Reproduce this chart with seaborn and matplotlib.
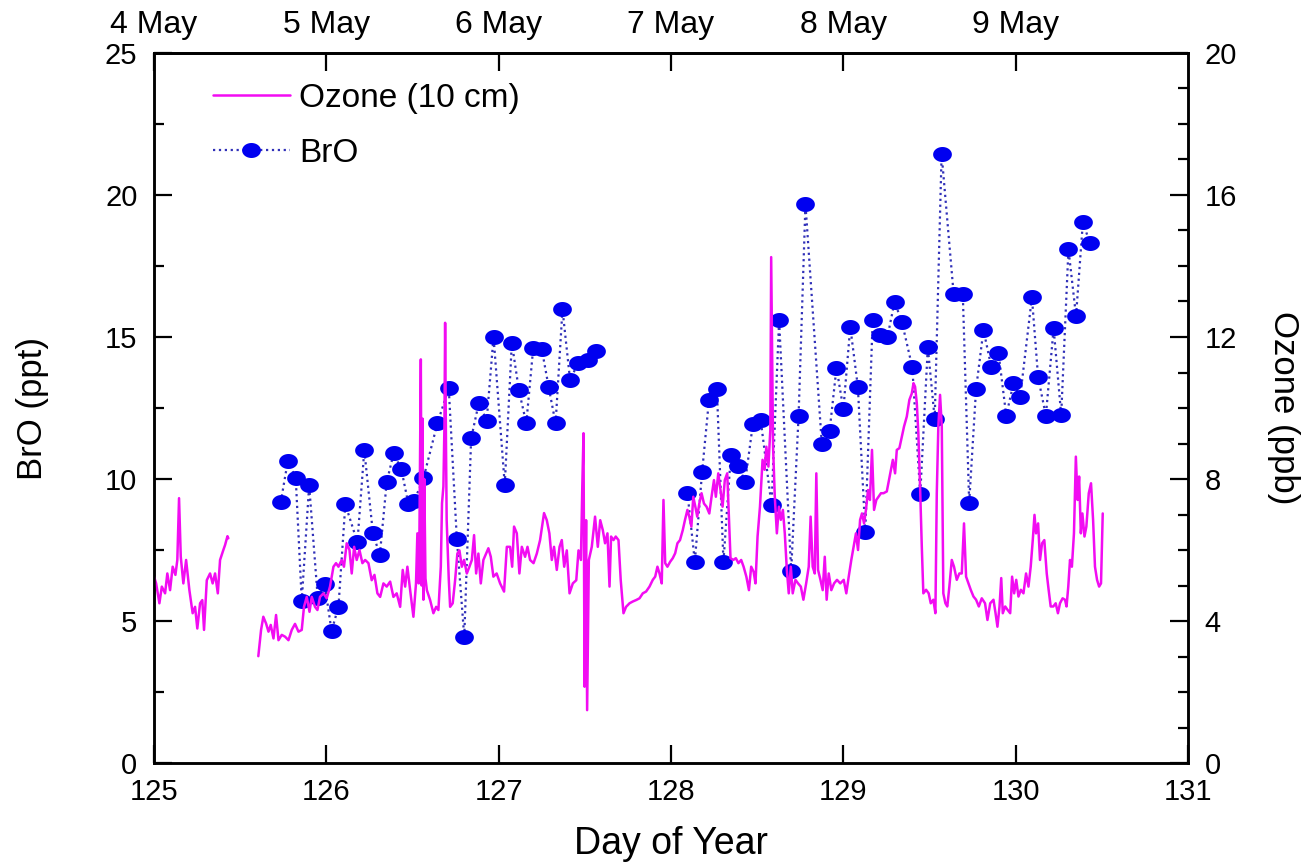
import numpy as np
import pandas as pd
import matplotlib
matplotlib.use("Agg")
import matplotlib.pyplot as plt
from matplotlib.path import Path
from matplotlib.lines import Line2D
from matplotlib.ticker import MultipleLocator
from matplotlib import font_manager
import seaborn as sns

# ---------------- data ----------------
# BrO (ppt), two measurement periods
bro_day_a = [125.735, 125.776, 125.822, 125.857, 125.900, 125.950, 125.990, 126.030, 126.070,
             126.110, 126.180, 126.220, 126.270, 126.310, 126.350, 126.390, 126.435, 126.476,
             126.510, 126.563, 126.644, 126.710, 126.757, 126.800, 126.840, 126.885, 126.930,
             126.970, 127.035, 127.076, 127.117, 127.160, 127.200, 127.250, 127.290, 127.330,
             127.370, 127.414, 127.460, 127.520, 127.565]
bro_val_a = [9.18, 10.63, 10.05, 5.72, 9.78, 5.80, 6.30, 4.65, 5.50,
             9.11, 7.77, 11.02, 8.09, 7.32, 9.89, 10.90, 10.34, 9.12,
             9.24, 10.02, 11.96, 13.20, 7.89, 4.44, 11.43, 12.69, 12.05,
             15.01, 9.79, 14.80, 13.13, 11.96, 14.60, 14.57, 13.23, 11.96,
             15.98, 13.49, 14.07, 14.19, 14.52]
bro_day_b = [128.095, 128.138, 128.180, 128.220, 128.266, 128.304, 128.347, 128.390, 128.430,
             128.475, 128.520, 128.583, 128.627, 128.697, 128.740, 128.780, 128.875, 128.920,
             128.960, 129.000, 129.040, 129.084, 129.127, 129.170, 129.210, 129.256, 129.297,
             129.340, 129.400, 129.446, 129.490, 129.530, 129.570, 129.640, 129.693, 129.730,
             129.770, 129.813, 129.858, 129.900, 129.945, 129.987, 130.026, 130.094, 130.130,
             130.175, 130.220, 130.264, 130.306, 130.350, 130.390, 130.430]
bro_val_b = [9.52, 7.09, 10.24, 12.78, 13.16, 7.09, 10.85, 10.47, 9.91,
             11.94, 12.08, 9.08, 15.60, 6.76, 12.22, 19.68, 11.22, 11.69,
             13.92, 12.45, 15.36, 13.25, 8.14, 15.60, 15.07, 15.01, 16.24,
             15.52, 13.93, 9.46, 14.64, 12.11, 21.45, 16.50, 16.50, 9.17,
             13.17, 15.25, 13.95, 14.45, 12.23, 13.37, 12.90, 16.40, 13.58,
             12.23, 15.31, 12.25, 18.09, 15.74, 19.06, 18.30]

# Ozone (ppb) at 10 cm, two record segments
oz_day_a = [125.000, 125.012, 125.031, 125.045, 125.064, 125.077, 125.093, 125.108, 125.124,
            125.135, 125.145, 125.155, 125.170, 125.186, 125.205, 125.224, 125.238, 125.251,
            125.267, 125.280, 125.290, 125.306, 125.325, 125.340, 125.354, 125.370, 125.383,
            125.402, 125.412, 125.426, 125.431]
oz_val_a = [5.25, 5.06, 4.50, 4.97, 4.78, 5.34, 4.87, 5.53, 5.30,
            5.72, 7.46, 5.81, 5.06, 5.72, 4.87, 4.22, 4.40, 3.79,
            4.50, 4.59, 3.75, 5.15, 5.34, 5.06, 5.34, 4.78, 5.72,
            6.00, 6.14, 6.39, 6.33]
oz_day_b = [125.605, 125.621, 125.634, 125.650, 125.664, 125.677, 125.693, 125.708, 125.722,
            125.741, 125.760, 125.780, 125.799, 125.818, 125.838, 125.857, 125.870, 125.886,
            125.902, 125.915, 125.934, 125.948, 125.963, 125.983, 126.002, 126.021, 126.041,
            126.056, 126.070, 126.089, 126.102, 126.118, 126.134, 126.147, 126.161, 126.176,
            126.192, 126.209, 126.225, 126.244, 126.263, 126.279, 126.296, 126.312, 126.331,
            126.350, 126.370, 126.389, 126.408, 126.428, 126.443, 126.457, 126.470, 126.486,
            126.505, 126.520, 126.528, 126.536, 126.540, 126.548, 126.553, 126.558, 126.563,
            126.568, 126.575, 126.583, 126.602, 126.621, 126.637, 126.650, 126.664, 126.671,
            126.679, 126.685, 126.689, 126.694, 126.698, 126.710, 126.718, 126.733, 126.747,
            126.760, 126.772, 126.786, 126.799, 126.815, 126.830, 126.844, 126.857, 126.869,
            126.882, 126.896, 126.911, 126.927, 126.940, 126.954, 126.969, 126.988, 127.008,
            127.031, 127.047, 127.066, 127.078, 127.089, 127.105, 127.120, 127.134, 127.153,
            127.167, 127.182, 127.202, 127.221, 127.240, 127.263, 127.279, 127.294, 127.308,
            127.321, 127.337, 127.353, 127.366, 127.380, 127.395, 127.411, 127.430, 127.450,
            127.463, 127.477, 127.485, 127.492, 127.498, 127.507, 127.513, 127.523, 127.540,
            127.559, 127.575, 127.589, 127.604, 127.617, 127.631, 127.643, 127.652, 127.666,
            127.679, 127.695, 127.708, 127.724, 127.739, 127.759, 127.778, 127.797, 127.817,
            127.836, 127.855, 127.875, 127.894, 127.908, 127.921, 127.933, 127.946, 127.956,
            127.966, 127.979, 127.995, 128.010, 128.024, 128.037, 128.052, 128.068, 128.081,
            128.095, 128.106, 128.118, 128.129, 128.141, 128.152, 128.164, 128.177, 128.191,
            128.206, 128.222, 128.235, 128.249, 128.260, 128.274, 128.287, 128.299, 128.312,
            128.326, 128.337, 128.345, 128.361, 128.376, 128.391, 128.407, 128.421, 128.437,
            128.452, 128.465, 128.479, 128.490, 128.502, 128.516, 128.531, 128.543, 128.553,
            128.565, 128.576, 128.581, 128.592, 128.602, 128.614, 128.626, 128.637, 128.649,
            128.660, 128.672, 128.683, 128.695, 128.706, 128.722, 128.737, 128.753, 128.768,
            128.784, 128.799, 128.810, 128.822, 128.834, 128.843, 128.853, 128.867, 128.880,
            128.892, 128.903, 128.915, 128.930, 128.946, 128.963, 128.982, 129.002, 129.017,
            129.031, 129.046, 129.060, 129.073, 129.085, 129.097, 129.108, 129.120, 129.131,
            129.143, 129.154, 129.166, 129.178, 129.191, 129.204, 129.218, 129.233, 129.252,
            129.272, 129.287, 129.300, 129.310, 129.325, 129.339, 129.352, 129.368, 129.383,
            129.397, 129.407, 129.416, 129.426, 129.435, 129.445, 129.455, 129.464, 129.480,
            129.495, 129.507, 129.522, 129.534, 129.542, 129.551, 129.561, 129.571, 129.580,
            129.592, 129.603, 129.615, 129.629, 129.642, 129.658, 129.673, 129.687, 129.700,
            129.712, 129.726, 129.739, 129.755, 129.770, 129.786, 129.803, 129.822, 129.836,
            129.852, 129.871, 129.883, 129.894, 129.906, 129.916, 129.925, 129.939, 129.952,
            129.968, 129.979, 129.991, 130.003, 130.016, 130.030, 130.045, 130.060, 130.074,
            130.087, 130.099, 130.109, 130.118, 130.130, 130.141, 130.153, 130.166, 130.180,
            130.191, 130.203, 130.218, 130.232, 130.245, 130.257, 130.272, 130.286, 130.295,
            130.305, 130.315, 130.326, 130.338, 130.349, 130.359, 130.368, 130.378, 130.387,
            130.399, 130.410, 130.424, 130.437, 130.449, 130.460, 130.472, 130.484, 130.495,
            130.505]
oz_val_b = [3.01, 3.75, 4.12, 3.93, 3.70, 3.89, 3.51, 4.17, 3.46,
            3.61, 3.56, 3.46, 3.75, 3.92, 3.70, 3.75, 4.40, 4.68,
            4.26, 4.68, 4.40, 4.31, 4.68, 4.78, 4.64, 4.97, 5.53,
            5.63, 5.53, 5.72, 5.53, 6.19, 6.00, 5.34, 6.09, 5.72,
            6.00, 5.63, 5.72, 5.63, 5.15, 5.30, 4.78, 4.68, 5.06,
            4.97, 5.11, 4.68, 4.78, 4.40, 5.44, 4.97, 5.53, 4.87,
            4.12, 5.06, 6.47, 5.06, 6.50, 11.37, 5.00, 9.70, 4.60,
            8.00, 5.20, 4.87, 4.59, 4.22, 4.40, 4.31, 5.53, 7.32,
            7.79, 9.50, 12.40, 9.00, 6.84, 5.20, 4.40, 4.50, 5.15,
            5.90, 5.99, 5.53, 5.72, 5.34, 5.53, 5.72, 6.42, 5.34,
            5.90, 5.06, 5.72, 5.90, 6.05, 5.81, 5.25, 5.34, 5.06,
            4.83, 6.09, 6.09, 5.53, 6.66, 6.47, 5.34, 6.09, 5.81,
            6.09, 5.72, 5.63, 5.90, 6.28, 7.04, 6.84, 6.47, 5.72,
            6.09, 5.44, 6.09, 6.28, 5.53, 5.99, 4.78, 5.06, 5.15,
            5.99, 5.72, 7.79, 9.29, 2.15, 6.84, 1.49, 5.72, 6.09,
            6.94, 6.09, 6.84, 6.56, 6.19, 6.47, 4.97, 6.38, 6.28,
            6.38, 6.28, 5.15, 4.22, 4.40, 4.50, 4.55, 4.59, 4.64,
            4.78, 4.83, 4.97, 5.16, 5.25, 5.53, 5.34, 5.06, 7.41,
            5.63, 5.53, 5.67, 5.77, 5.91, 6.19, 6.28, 6.56, 6.85,
            7.13, 6.94, 6.66, 7.50, 7.22, 6.94, 7.31, 7.60, 7.31,
            7.22, 7.03, 7.50, 7.97, 7.50, 8.16, 7.69, 7.22, 7.97,
            8.16, 6.75, 5.77, 5.72, 5.77, 5.63, 5.72, 5.53, 5.25,
            4.87, 5.53, 5.39, 5.06, 6.38, 7.22, 8.54, 8.26, 8.91,
            8.35, 9.38, 14.25, 8.91, 7.50, 6.47, 7.22, 6.85, 7.13,
            6.47, 5.44, 4.78, 5.53, 4.78, 5.16, 5.06, 4.97, 4.60,
            5.06, 5.53, 6.94, 5.53, 5.34, 8.16, 5.44, 5.16, 4.87,
            5.81, 4.60, 5.34, 4.87, 5.06, 5.16, 5.06, 5.16, 4.78,
            5.25, 5.72, 6.10, 6.47, 6.00, 6.85, 7.03, 6.75, 7.13,
            7.69, 7.41, 8.82, 7.13, 7.41, 7.50, 7.60, 7.60, 7.65,
            8.16, 8.54, 8.16, 8.82, 8.87, 9.19, 9.48, 9.76, 10.23,
            10.41, 10.70, 10.60, 10.14, 9.29, 7.79, 6.10, 4.78, 4.88,
            4.78, 4.50, 4.60, 4.22, 7.60, 9.48, 10.37, 9.48, 4.78,
            4.50, 4.41, 4.97, 5.72, 5.53, 5.16, 5.34, 5.34, 6.75,
            5.25, 5.06, 4.88, 4.69, 4.60, 4.41, 4.64, 4.50, 4.03,
            4.50, 4.60, 4.22, 3.84, 4.41, 5.21, 4.22, 4.41, 4.32,
            4.22, 5.25, 4.78, 5.16, 4.69, 4.88, 4.78, 5.34, 4.97,
            5.53, 6.28, 6.99, 6.47, 6.75, 5.72, 6.19, 6.28, 5.34,
            4.88, 4.41, 4.41, 4.50, 4.22, 4.50, 4.64, 4.60, 4.41,
            4.97, 5.72, 5.53, 6.47, 8.63, 7.41, 8.07, 6.47, 7.03,
            6.38, 6.66, 7.60, 7.88, 6.85, 5.53, 5.16, 4.97, 5.06,
            7.03]

top_ticks = [125, 126, 127, 128, 129, 130]
top_labels = ["4 May", "5 May", "6 May", "7 May", "8 May", "9 May"]

bro_df = pd.DataFrame({
    "day": bro_day_a + bro_day_b,
    "BrO": bro_val_a + bro_val_b,
    "seg": ["a"] * len(bro_day_a) + ["b"] * len(bro_day_b),
})
oz_df = pd.DataFrame({
    "day": oz_day_a + oz_day_b,
    "O3": oz_val_a + oz_val_b,
    "seg": ["a"] * len(oz_day_a) + ["b"] * len(oz_day_b),
})

# ---------------- style ----------------
sns.set_style("ticks")
plt.rcParams["font.family"] = ["Liberation Sans", "DejaVu Sans"]
for key in ("text.color", "axes.labelcolor", "xtick.color", "ytick.color", "axes.edgecolor"):
    plt.rcParams[key] = "black"

installed = {f.name for f in font_manager.fontManager.ttflist}
if "Liberation Sans Narrow" in installed:
    tick_font = {"family": ["Liberation Sans Narrow", "Liberation Sans", "DejaVu Sans"], "size": 23}
else:
    tick_font = {"family": ["Liberation Sans", "DejaVu Sans"], "size": 21}

MAG = "#F20CF2"
BLUE = "#0000F0"
DOT = "#3030B8"

t = np.linspace(0, 2 * np.pi, 64)
ellipse = Path(np.column_stack([1.25 * np.cos(t), np.sin(t)]), closed=True)

fig = plt.figure(figsize=(13.1, 8.67), dpi=100)
ax = fig.add_axes([0.1176, 0.1199, 0.7893, 0.8190])
ax2 = ax.twinx()

sns.lineplot(data=bro_df, x="day", y="BrO", units="seg", estimator=None, sort=False,
             ax=ax, color=DOT, linestyle=":", linewidth=1.6,
             marker=ellipse, markersize=13.5, markerfacecolor=BLUE,
             markeredgecolor=BLUE, markeredgewidth=0, legend=False)
sns.lineplot(data=oz_df, x="day", y="O3", units="seg", estimator=None, sort=False,
             ax=ax2, color=MAG, linewidth=1.8, legend=False)

ax.set_xlim(125, 131)
ax.set_ylim(0, 25)
ax2.set_ylim(0, 20)

ax.xaxis.set_major_locator(MultipleLocator(1))
ax.yaxis.set_major_locator(MultipleLocator(5))
ax.yaxis.set_minor_locator(MultipleLocator(2.5))
ax2.yaxis.set_major_locator(MultipleLocator(4))
ax2.yaxis.set_minor_locator(MultipleLocator(1))

ax.tick_params(axis="both", which="major", direction="in", length=13, width=1.6,
               top=False, right=False)
ax.tick_params(axis="x", pad=11)
ax.tick_params(axis="y", pad=12)
ax.tick_params(axis="y", which="minor", direction="in", length=7, width=1.6)
ax2.tick_params(axis="y", which="major", direction="in", length=13, width=1.6, pad=12)
ax2.tick_params(axis="y", which="minor", direction="in", length=7, width=1.6)

top = ax.secondary_xaxis("top")
top.set_xticks(top_ticks)
top.set_xticklabels(top_labels)
top.tick_params(direction="in", length=13, width=1.6, labelsize=23, pad=9)

for lab in ax.get_xticklabels() + ax.get_yticklabels() + ax2.get_yticklabels():
    lab.set_fontfamily(tick_font["family"])
    lab.set_fontsize(tick_font["size"])

for a in (ax, ax2):
    for s in a.spines.values():
        s.set_linewidth(1.8)
        s.set_color("black")
top.spines["top"].set_linewidth(1.8)

ax.set_xlabel("Day of Year", fontsize=27, labelpad=14)
ax.set_ylabel("BrO (ppt)", fontsize=25, labelpad=40)
ax2.set_ylabel("Ozone (ppb)", fontsize=25, rotation=270, labelpad=45)

handles = [
    Line2D([], [], color=MAG, linewidth=1.8),
    Line2D([], [], color=DOT, linestyle=":", linewidth=1.6, marker=ellipse,
           markersize=13.5, markerfacecolor=BLUE, markeredgecolor=BLUE, markeredgewidth=0),
]
leg = ax2.legend(handles, ["Ozone (10 cm)", "BrO"], loc="upper left",
                 bbox_to_anchor=(0.057, 0.958), frameon=False, fontsize=24,
                 handlelength=2.3, handletextpad=0.28, labelspacing=0.72,
                 borderaxespad=0, borderpad=0, numpoints=1)

fig.savefig("out.png", dpi=100)
